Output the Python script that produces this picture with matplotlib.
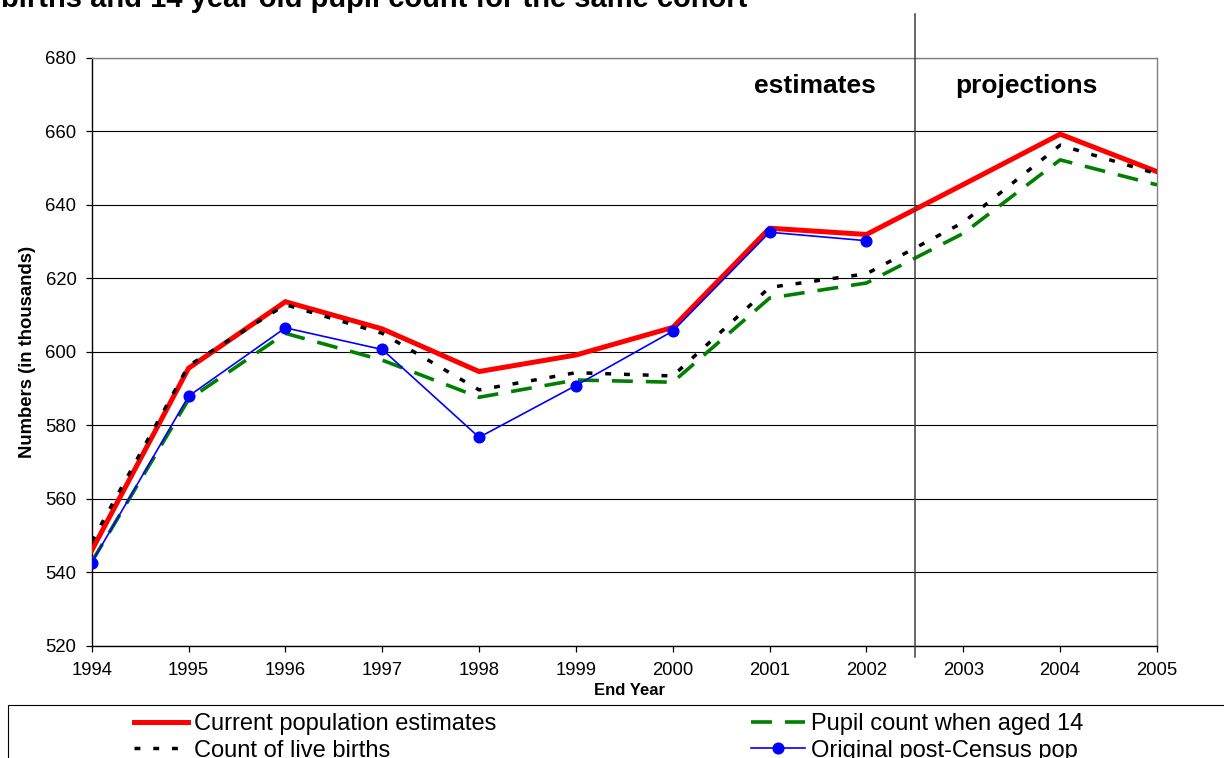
import matplotlib
matplotlib.use("Agg")
import matplotlib.pyplot as plt
from matplotlib.patches import Rectangle
from matplotlib.transforms import blended_transform_factory

plt.rcParams['font.family'] = ['Liberation Sans', 'DejaVu Sans']

# data (thousands)
years = [1994, 1995, 1996, 1997, 1998, 1999, 2000, 2001, 2002, 2003, 2004, 2005]
year_labels = [str(y) for y in years]
current_pop = [545.9, 595.5, 613.6, 606.2, 594.6, 599.1, 606.6, 633.6, 631.9, 645.5, 659.2, 649.0]
live_births = [548.3, 596.2, 612.8, 605.0, 589.6, 594.3, 593.4, 617.5, 621.2, 635.2, 656.2, 648.4]
pupil_count = [542.8, 587.0, 605.0, 597.7, 587.6, 592.3, 591.7, 614.6, 618.7, 632.2, 652.2, 645.4]
post_census_years = years[:9]
post_census = [542.6, 587.9, 606.5, 600.6, 576.7, 590.8, 605.6, 632.5, 630.2]
y_ticks = [520, 540, 560, 580, 600, 620, 640, 660, 680]

W, H = 1224, 758
fig = plt.figure(figsize=(W / 100, H / 100), dpi=100)
ax = fig.add_axes([91.7 / W, 1 - 645.7 / H, (1157 - 91.7) / W, (645.7 - 57.7) / H])

red, = ax.plot(years, current_pop, color='#FF0000', lw=3.6, solid_joinstyle='miter',
               zorder=3, label='Current population estimates')
green, = ax.plot(years, pupil_count, color='#008000', lw=2.6, ls=(0, (5.8, 3.6)),
                 zorder=4, label='Pupil count when aged 14')
black, = ax.plot(years, live_births, color='black', lw=2.5, ls=(0, (1.7, 3.7)),
                 zorder=5, label='Count of live births')
blue, = ax.plot(post_census_years, post_census, color='#0000FF', lw=1.2, marker='o',
                markersize=7.7, zorder=6, label='Original post-Census pop')

ax.set_xlim(1994, 2005)
ax.set_ylim(520, 680)
ax.set_yticks(y_ticks)
ax.set_xticks(years)
ax.set_xticklabels(year_labels)
ax.grid(axis='y', color='black', lw=0.8)
ax.set_axisbelow(True)

for s in ['left', 'bottom']:
    ax.spines[s].set_color('black')
    ax.spines[s].set_linewidth(1.0)
for s in ['top', 'right']:
    ax.spines[s].set_color('#808080')
    ax.spines[s].set_linewidth(1.0)

ax.tick_params(axis='both', direction='out', length=4.5, width=0.9, labelsize=13.3)
ax.tick_params(axis='x', pad=7.5)
ax.tick_params(axis='y', pad=6.5)

ax.set_xlabel('End Year', fontweight='bold', fontsize=12)
ax.xaxis.set_label_coords(0.505, -0.063)
ax.text(-0.0606, 0.5, 'Numbers (in thousands)', transform=ax.transAxes, rotation=90,
        ha='center', va='center', fontweight='bold', fontsize=13.3)

# estimates / projections divider
trans = blended_transform_factory(ax.transData, fig.transFigure)
ax.plot([2002.5, 2002.5], [1 - 657 / H, 1 - 14 / H], transform=trans, clip_on=False,
        color='#404040', lw=1.1, zorder=7)
ax.text(2001.47, 672.3, 'estimates', ha='center', va='center', fontsize=19, fontweight='bold')
ax.text(2003.65, 672.3, 'projections', ha='center', va='center', fontsize=19, fontweight='bold')

# title (top cut off in the original)
fig.text(1 / W, 1 - 7 / H, 'births and 14 year old pupil count for the same cohort',
         ha='left', va='baseline', fontsize=21, fontweight='bold')

# legend
fig.add_artist(Rectangle((8 / W, -0.1), 1.2, 0.1 + (H - 705) / H, transform=fig.transFigure,
                         fill=False, edgecolor='black', lw=0.8))
fig.legend(handles=[red, black, green, blue], ncol=2, loc='upper left',
           bbox_to_anchor=(134 / W, 1 - 713 / H), frameon=False, fontsize=17,
           handlelength=2.3, handletextpad=0.25, columnspacing=10.77, labelspacing=0.2,
           borderpad=0, borderaxespad=0)

fig.savefig('out.png', dpi=100)
